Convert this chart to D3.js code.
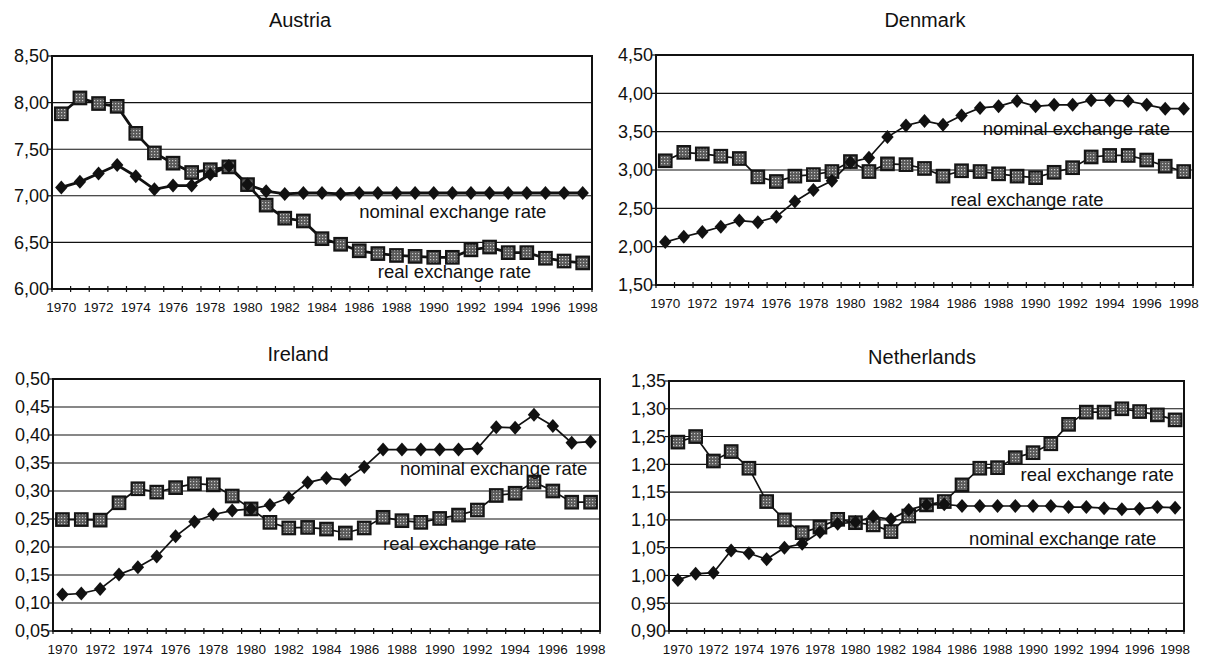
<!DOCTYPE html>
<html>
<head>
<meta charset="utf-8">
<script src="https://cdn.jsdelivr.net/npm/d3@7"></script>
<style>
  body { margin: 0; background: #fff; }
  svg { display: block; }
  .title { font-family: "Liberation Sans", Arial, sans-serif; font-size: 20px; }
  .ytick { font-family: "Liberation Sans", Arial, sans-serif; font-size: 18px; }
  .xtick { font-family: "Liberation Sans Narrow", "Arial Narrow", "Liberation Sans", sans-serif; font-size: 13.5px; font-stretch: condensed; }
  .note { font-family: "Liberation Sans", Arial, sans-serif; font-size: 18.5px; }
</style>
</head>
<body>
<div id="chart"></div>
<script>
// Set dimensions of the page
const width = 1207;
const height = 659;

// Categories (years) and labelled years
const years = [1970, 1971, 1972, 1973, 1974, 1975, 1976, 1977, 1978, 1979,
               1980, 1981, 1982, 1983, 1984, 1985, 1986, 1987, 1988, 1989,
               1990, 1991, 1992, 1993, 1994, 1995, 1996, 1997, 1998];
const yearLabels = [1970, 1972, 1974, 1976, 1978, 1980, 1982, 1984, 1986, 1988, 1990, 1992, 1994, 1996, 1998];

// Austria
const austriaNominal = [7.09, 7.15, 7.24, 7.33, 7.21, 7.07, 7.11, 7.11, 7.23, 7.32,
                        7.12, 7.05, 7.02, 7.03, 7.03, 7.02, 7.03, 7.03, 7.03, 7.03,
                        7.03, 7.03, 7.03, 7.03, 7.03, 7.03, 7.03, 7.03, 7.03];
const austriaReal = [7.88, 8.05, 7.99, 7.96, 7.67, 7.46, 7.35, 7.25, 7.28, 7.31,
                     7.12, 6.90, 6.76, 6.73, 6.54, 6.48, 6.41, 6.38, 6.36, 6.35,
                     6.34, 6.34, 6.42, 6.45, 6.39, 6.39, 6.33, 6.30, 6.28];
const austriaTicks = [6.0, 6.5, 7.0, 7.5, 8.0, 8.5];

// Denmark
const denmarkNominal = [2.06, 2.13, 2.19, 2.26, 2.34, 2.32, 2.39, 2.59, 2.74, 2.86,
                        3.10, 3.16, 3.43, 3.58, 3.64, 3.59, 3.71, 3.81, 3.83, 3.90,
                        3.83, 3.85, 3.85, 3.91, 3.91, 3.90, 3.85, 3.80, 3.80];
const denmarkReal = [3.12, 3.23, 3.21, 3.18, 3.15, 2.91, 2.85, 2.92, 2.94, 2.98,
                     3.11, 2.98, 3.08, 3.07, 3.02, 2.92, 2.99, 2.98, 2.95, 2.92,
                     2.90, 2.97, 3.03, 3.17, 3.19, 3.19, 3.13, 3.05, 2.98];
const denmarkTicks = [1.5, 2.0, 2.5, 3.0, 3.5, 4.0, 4.5];

// Ireland
const irelandNominal = [0.115, 0.117, 0.125, 0.151, 0.164, 0.183, 0.219, 0.245, 0.258, 0.265,
                        0.268, 0.275, 0.288, 0.315, 0.323, 0.320, 0.343, 0.374, 0.374, 0.374,
                        0.374, 0.374, 0.376, 0.414, 0.413, 0.436, 0.416, 0.386, 0.388];
const irelandReal = [0.249, 0.249, 0.248, 0.279, 0.304, 0.298, 0.306, 0.313, 0.311, 0.291,
                     0.268, 0.244, 0.234, 0.235, 0.232, 0.225, 0.234, 0.253, 0.247, 0.244,
                     0.251, 0.257, 0.266, 0.292, 0.296, 0.316, 0.300, 0.280, 0.280];
const irelandTicks = [0.05, 0.10, 0.15, 0.20, 0.25, 0.30, 0.35, 0.40, 0.45, 0.50];

// Netherlands
const netherlandsNominal = [0.992, 1.003, 1.005, 1.045, 1.040, 1.029, 1.050, 1.057, 1.078, 1.093,
                            1.096, 1.106, 1.101, 1.118, 1.127, 1.128, 1.125, 1.125, 1.125, 1.125,
                            1.125, 1.125, 1.123, 1.123, 1.121, 1.119, 1.120, 1.123, 1.122];
const netherlandsReal = [1.240, 1.250, 1.206, 1.223, 1.193, 1.133, 1.100, 1.077, 1.087, 1.101,
                         1.095, 1.091, 1.079, 1.107, 1.127, 1.133, 1.163, 1.193, 1.194, 1.212,
                         1.221, 1.237, 1.272, 1.294, 1.294, 1.300, 1.295, 1.289, 1.280];
const netherlandsTicks = [0.90, 0.95, 1.00, 1.05, 1.10, 1.15, 1.20, 1.25, 1.30, 1.35];

// Panel layout (box = left, top, right, bottom)
const panels = [
    {title: "Austria", nominal: austriaNominal, real: austriaReal, ticks: austriaTicks,
     box: [52, 56, 592, 289], titleX: 300, titleY: 20, lineWidth: 2.8,
     notes: [{text: "nominal exchange rate", year: 1986.0, value: 6.83},
             {text: "real exchange rate", year: 1987.0, value: 6.19}]},
    {title: "Denmark", nominal: denmarkNominal, real: denmarkReal, ticks: denmarkTicks,
     box: [656, 55, 1193, 285], titleX: 925, titleY: 20, lineWidth: 1.7,
     notes: [{text: "nominal exchange rate", year: 1987.15, value: 3.535},
             {text: "real exchange rate", year: 1985.4, value: 2.62}]},
    {title: "Ireland", nominal: irelandNominal, real: irelandReal, ticks: irelandTicks,
     box: [53, 379, 600, 631], titleX: 298, titleY: 354, lineWidth: 1.7,
     notes: [{text: "nominal exchange rate", year: 1987.9, value: 0.341},
             {text: "real exchange rate", year: 1987.0, value: 0.207}]},
    {title: "Netherlands", nominal: netherlandsNominal, real: netherlandsReal, ticks: netherlandsTicks,
     box: [669, 381, 1184, 631], titleX: 922, titleY: 357, lineWidth: 1.7,
     notes: [{text: "real exchange rate", year: 1989.3, value: 1.181},
             {text: "nominal exchange rate", year: 1986.4, value: 1.067}]}
];

const svg = d3.select("#chart")
    .append("svg")
    .attr("width", width)
    .attr("height", height);

// Stippled grey fill for the square markers
const pattern = svg.append("defs")
    .append("pattern")
    .attr("id", "stipple")
    .attr("patternUnits", "userSpaceOnUse")
    .attr("width", 3).attr("height", 3);
pattern.append("rect").attr("width", 3).attr("height", 3).attr("fill", "#5a5a5a");
pattern.append("rect").attr("x", 1).attr("y", 1).attr("width", 1.2).attr("height", 1.2).attr("fill", "#c8c8c8");

// Comma decimal, as in the original
const fmt = v => d3.format(".2f")(v).replace(".", ",");

panels.forEach(p => {
    const [x0, y0, x1, y1] = p.box;
    const g = svg.append("g");

    const x = d3.scaleBand().domain(years).range([x0, x1]).padding(0);
    const y = d3.scaleLinear().domain(d3.extent(p.ticks)).range([y1, y0]);
    const cx = yr => x(yr) + x.bandwidth() / 2;
    // fractional year position for text notes
    const xPos = yr => x(years[0]) + (yr - years[0] + 0.5) * x.bandwidth();

    // Gridlines
    g.selectAll(".grid")
        .data(p.ticks)
        .enter()
        .append("line")
        .attr("x1", x0).attr("x2", x1)
        .attr("y1", d => y(d)).attr("y2", d => y(d))
        .attr("stroke", "#111")
        .attr("stroke-width", 1.1);

    // Y axis labels and small ticks
    g.selectAll(".ytick")
        .data(p.ticks)
        .enter()
        .append("text")
        .attr("class", "ytick")
        .attr("x", x0 - 3)
        .attr("y", d => y(d))
        .attr("dy", "0.35em")
        .attr("text-anchor", "end")
        .attr("fill", "#111")
        .text(fmt);

    g.selectAll(".ytickmark")
        .data(p.ticks)
        .enter()
        .append("line")
        .attr("x1", x0 - 4).attr("x2", x0)
        .attr("y1", d => y(d)).attr("y2", d => y(d))
        .attr("stroke", "#111").attr("stroke-width", 1.2);

    // X tick marks on band boundaries
    const bounds = years.map(yr => x(yr)).concat([x1]);
    g.selectAll(".xtickmark")
        .data(bounds)
        .enter()
        .append("line")
        .attr("x1", d => d).attr("x2", d => d)
        .attr("y1", y1 - 3).attr("y2", y1 + 3)
        .attr("stroke", "#111").attr("stroke-width", 1.2);

    g.selectAll(".xtick")
        .data(yearLabels)
        .enter()
        .append("text")
        .attr("class", "xtick")
        .attr("x", d => cx(d))
        .attr("y", y1 + 23)
        .attr("text-anchor", "middle")
        .attr("fill", "#111")
        .text(d => d);

    // Plot frame
    g.append("rect")
        .attr("x", x0).attr("y", y0)
        .attr("width", x1 - x0).attr("height", y1 - y0)
        .attr("fill", "none")
        .attr("stroke", "#111")
        .attr("stroke-width", 2);

    // Title
    g.append("text")
        .attr("class", "title")
        .attr("x", p.titleX)
        .attr("y", p.titleY)
        .attr("dy", "0.35em")
        .attr("text-anchor", "middle")
        .attr("fill", "#111")
        .text(p.title);

    const line = d3.line()
        .x((d, i) => cx(years[i]))
        .y(d => y(d));

    // Series lines
    [p.real, p.nominal].forEach(series => {
        g.append("path")
            .datum(series)
            .attr("d", line)
            .attr("fill", "none")
            .attr("stroke", "#111")
            .attr("stroke-width", p.lineWidth);
    });

    // Real exchange rate: stippled grey squares
    const sq = 12.5;
    g.selectAll(".sq")
        .data(p.real)
        .enter()
        .append("rect")
        .attr("x", (d, i) => cx(years[i]) - sq / 2)
        .attr("y", d => y(d) - sq / 2)
        .attr("width", sq).attr("height", sq)
        .attr("fill", "url(#stipple)")
        .attr("stroke", "#151515")
        .attr("stroke-width", 2.2);

    // Nominal exchange rate: black diamonds
    const dw = 6.2, dh = 7;
    g.selectAll(".dm")
        .data(p.nominal)
        .enter()
        .append("path")
        .attr("transform", (d, i) => `translate(${cx(years[i])},${y(d)})`)
        .attr("d", `M0,${-dh}L${dw},0L0,${dh}L${-dw},0Z`)
        .attr("fill", "#111");

    // Series notes
    g.selectAll(".note")
        .data(p.notes)
        .enter()
        .append("text")
        .attr("class", "note")
        .attr("x", d => xPos(d.year))
        .attr("y", d => y(d.value))
        .attr("dy", "0.35em")
        .attr("fill", "#111")
        .text(d => d.text);
});
</script>
</body>
</html>
